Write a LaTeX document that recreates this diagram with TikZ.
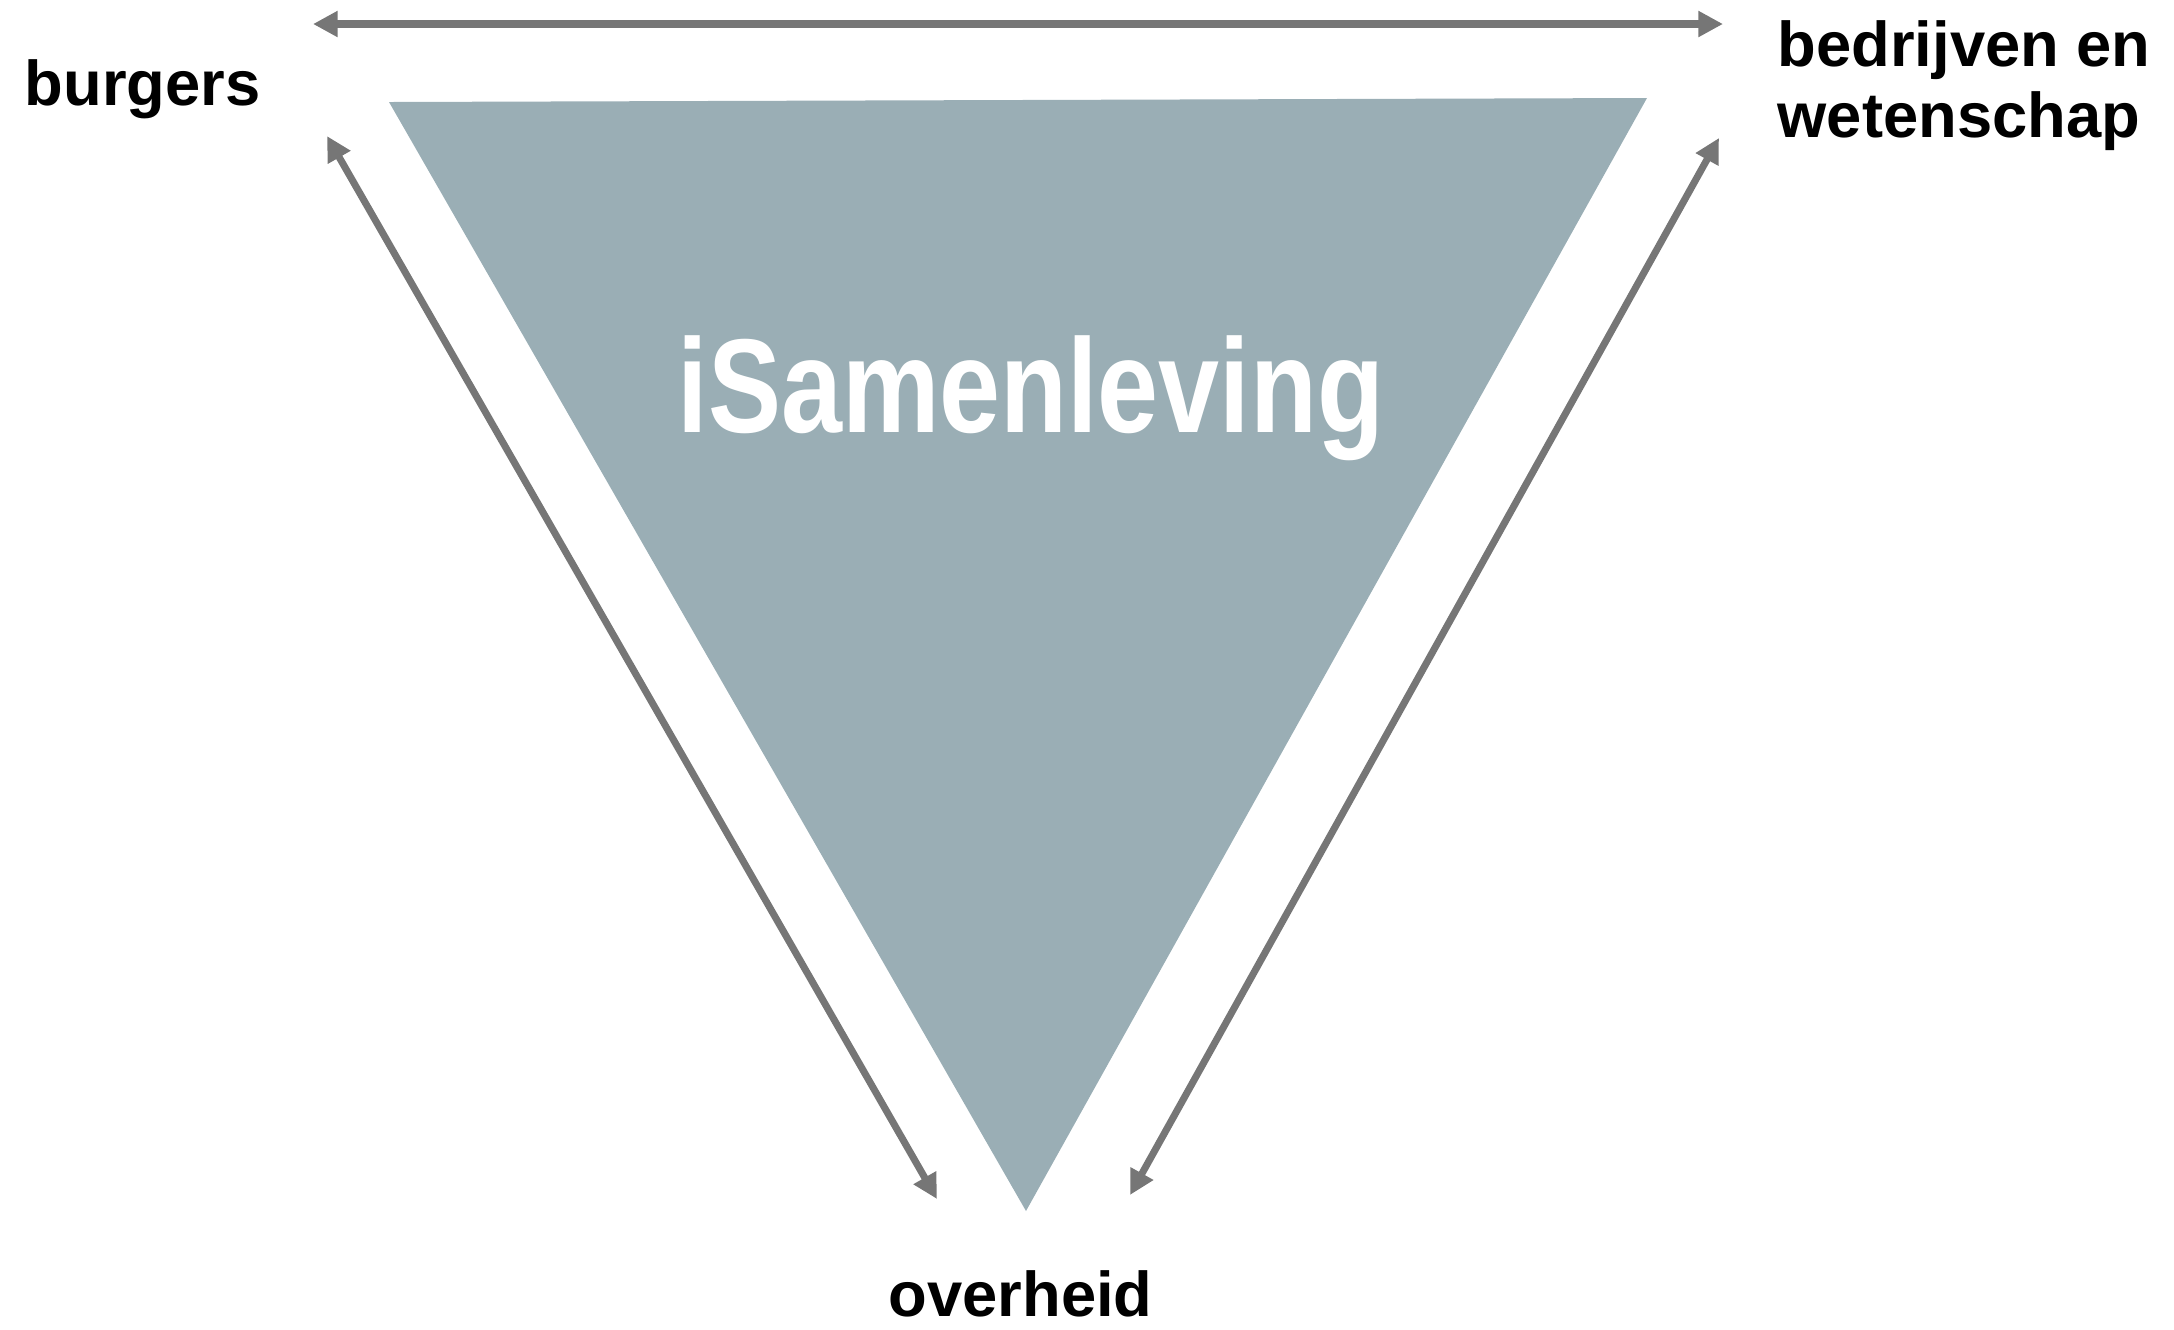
\documentclass[tikz,border=0pt]{standalone}
\usepackage{fontspec}
\setmainfont{Liberation Sans}
\usetikzlibrary{arrows.meta,positioning}
\definecolor{triColor}{HTML}{9AAEB5}
\definecolor{arrColor}{HTML}{767676}
\tikzset{party/.style={inner sep=0pt, font=\fontsize{18}{20}\selectfont\bfseries, align=left}}
\tikzset{link/.style={arrColor, line width=2pt, {Triangle[length=7pt,width=7pt]}-{Triangle[length=7pt,width=7pt]}}}
\newcommand{\smallCond}[1]{\scalebox{0.82}[1]{#1}}

\begin{document}
\begin{tikzpicture}[x=0.01cm, y=-0.01cm]
  \useasboundingbox (0,0) rectangle (2174,1329);
  % the triangle
  \fill[triColor] (389,102) -- (1647,98) -- (1026,1211) -- cycle;
  \node[inner sep=0pt, anchor=base west, text=white, font=\fontsize{38}{40}\selectfont\bfseries] at (677,432) (isam) {\smallCond{iSamenleving}};
  % the three parties
  \node[party, anchor=base west] at (24,105) (burg) {burgers};
  \node[party, anchor=base west] at (1777,137) (bedr) {bedrijven en\\wetenschap};
  \node[party, anchor=base west] at (888,1316) (over) {overheid};
  % arrow ends
  \coordinate (bt) at (313,24);
  \coordinate (wt) at (1723,24);
  \coordinate (bl) at (327,136);
  \coordinate (ol) at (937,1199);
  \coordinate (wr) at (1719,138);
  \coordinate (or) at (1130,1195);
  \path (bt) edge[link] (wt);
  \path (bl) edge[link] (ol);
  \path (wr) edge[link] (or);
\end{tikzpicture}
\end{document}
